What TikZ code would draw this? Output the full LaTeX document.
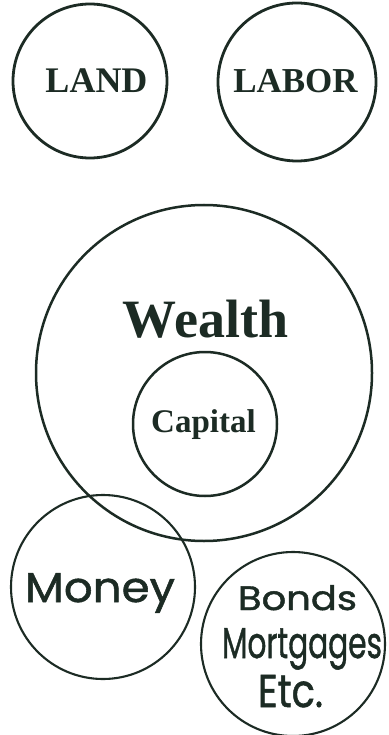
\documentclass[tikz,border=0pt]{standalone}
\usepackage{fontspec}
\usepackage{graphicx}
\setmainfont{Liberation Serif}
\newfontfamily\handfont[FakeBold=1.2]{Poppins}
\definecolor{ink}{HTML}{1C2B24}
\tikzset{
  ring/.style={circle, draw=ink, inner sep=0pt, minimum size=#1},
  serifword/.style={anchor=base, inner sep=0pt, text=ink, font=\bfseries},
  handword/.style={anchor=base, inner sep=0pt, text=ink, font=\handfont},
}
\begin{document}
\begin{tikzpicture}[x=1pt, y=-1pt]
\useasboundingbox[fill=white] (0,0) rectangle (388,735);
% circles
\node[ring=154pt, line width=2.8pt] (land) at (90,81) {};
\node[ring=158pt, line width=2.8pt] (labor) at (297,82) {};
\node[ring=336pt, line width=2.5pt] (wealth) at (204,373) {};
\node[ring=144pt, line width=2.5pt] (capital) at (205,424) {};
\node[ring=184pt, line width=2.1pt] (money) at (103,587) {};
\node[ring=184pt, line width=2.1pt] (bonds) at (293,644) {};
% serif labels
\node[serifword, font=\bfseries\fontsize{36}{36}\selectfont] (landt) at (96.5,93) {LAND};
\node[serifword, font=\bfseries\fontsize{35}{35}\selectfont] (labort) at (295.5,93) {LABOR};
\node[serifword, font=\bfseries\fontsize{54}{54}\selectfont] (wealtht) at (205.5,337) {Wealth};
\node[serifword, font=\bfseries\fontsize{33}{33}\selectfont] (capitalt) at (203.5,432) {Capital};
% hand-lettered labels
\node[handword] (moneyt) at (100,602) {\resizebox{150pt}{29pt}{Money}};
\node[handword] (bondst) at (297.5,610) {\resizebox{119pt}{25pt}{Bonds}};
\node[handword] (mortt) at (302,658) {\resizebox{160pt}{30pt}{Mortgages}};
\node[handword] (etct) at (290.5,707) {\resizebox{65pt}{32pt}{Etc.}};
\end{tikzpicture}
\end{document}
